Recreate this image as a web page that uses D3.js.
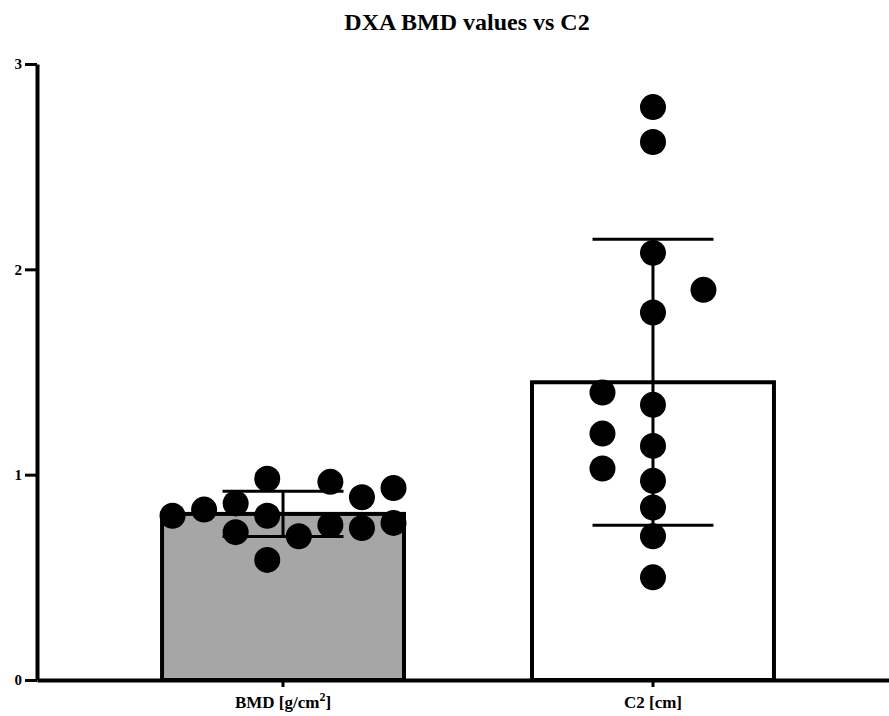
<!DOCTYPE html>
<html>
<head>
<meta charset="utf-8">
<script src="https://cdn.jsdelivr.net/npm/d3@7"></script>
<style>
    body { margin: 0; background: #fff; }
    text { font-family: "Liberation Serif", "DejaVu Serif", serif; font-weight: bold; fill: #000; }
</style>
</head>
<body>
<svg id="chart" width="889" height="716"></svg>
<script>
// Data
var categories = ["BMD", "C2"]
var bmdValues = [0.80, 0.83, 0.86, 0.72, 0.98, 0.80, 0.585, 0.70, 0.965, 0.755, 0.89, 0.74, 0.935, 0.765]
var bmdSlots  = [0,    1,    2,    2,    3,    3,    3,     4,    5,     5,     6,    6,    7,     7]
var c2Values = [2.79, 2.62, 2.08, 1.79, 1.34, 1.14, 0.97, 0.84, 0.70, 0.50, 1.90, 1.40, 1.20, 1.03]
var c2Slots  = [1,    1,    1,    1,    1,    1,    1,    1,    1,    1,    2,    0,    0,    0]
var yTicks = [0, 1, 2, 3]
var title = "DXA BMD values vs C2"

var groups = [
    { name: "BMD", values: bmdValues, slots: bmdSlots, nSlots: 8, spread: 221, fill: "#a6a6a6" },
    { name: "C2", values: c2Values, slots: c2Slots, nSlots: 3, spread: 101, fill: "#ffffff" }
]
groups.forEach(function(g) {
    g.mean = d3.mean(g.values)
    g.sd = d3.deviation(g.values)
})

var svg = d3.select("#chart")

var x = d3.scaleBand()
    .domain(categories)
    .range([37, 899])
    .paddingInner(0.346)
    .paddingOuter(0.338)

var y = d3.scaleLinear()
    .domain([0, 3])
    .range([680, 64])

// Title
svg.append("text")
    .attr("x", 467)
    .attr("y", 30)
    .attr("text-anchor", "middle")
    .style("font-size", "24px")
    .text(title)

// Bars
var bar = svg.selectAll(".bar")
    .data(groups)
    .enter().append("g")
    .attr("class", "bar")

bar.append("rect")
    .attr("x", function(d) { return x(d.name) })
    .attr("y", function(d) { return y(d.mean) })
    .attr("width", x.bandwidth())
    .attr("height", function(d) { return y(0) - y(d.mean) })
    .attr("fill", function(d) { return d.fill })
    .attr("stroke", "#000")
    .attr("stroke-width", 4)

// Error bars (mean +/- SD)
var capHalf = x.bandwidth() / 4
bar.append("line")
    .attr("x1", function(d) { return x(d.name) + x.bandwidth() / 2 })
    .attr("x2", function(d) { return x(d.name) + x.bandwidth() / 2 })
    .attr("y1", function(d) { return y(d.mean + d.sd) })
    .attr("y2", function(d) { return y(d.mean - d.sd) })
    .attr("stroke", "#000")
    .attr("stroke-width", 3)
bar.selectAll(".cap")
    .data(function(d) { return [d.mean + d.sd, d.mean - d.sd].map(function(v) { return { name: d.name, v: v } }) })
    .enter().append("line")
    .attr("class", "cap")
    .attr("x1", function(d) { return x(d.name) + x.bandwidth() / 2 - capHalf })
    .attr("x2", function(d) { return x(d.name) + x.bandwidth() / 2 + capHalf })
    .attr("y1", function(d) { return y(d.v) })
    .attr("y2", function(d) { return y(d.v) })
    .attr("stroke", "#000")
    .attr("stroke-width", 3)

// Individual points
bar.each(function(g) {
    var cx = x(g.name) + x.bandwidth() / 2
    var slotX = d3.scaleLinear()
        .domain([0, g.nSlots - 1])
        .range([cx - g.spread / 2, cx + g.spread / 2])
    d3.select(this).selectAll("circle")
        .data(g.values)
        .enter().append("circle")
        .attr("cx", function(d, i) { return slotX(g.slots[i]) })
        .attr("cy", function(d) { return y(d) })
        .attr("r", 13)
        .attr("fill", "#000")
})

// Y axis
var yAxis = svg.append("g")
    .attr("transform", "translate(37,0)")
    .call(d3.axisLeft(y).tickValues(yTicks).tickSize(12).tickSizeOuter(0).tickPadding(3).tickFormat(d3.format("d")))
yAxis.select(".domain").attr("stroke-width", 4)
yAxis.selectAll(".tick line").attr("stroke-width", 3)
yAxis.selectAll(".tick text").style("font-size", "15px")

// X axis
var xAxis = svg.append("g")
    .attr("transform", "translate(0,680)")
    .call(d3.axisBottom(x).tickSize(7).tickSizeOuter(0).tickPadding(8).tickFormat(""))
xAxis.select(".domain").attr("stroke-width", 4)
xAxis.selectAll(".tick line").attr("stroke-width", 3)

var xLabels = { "BMD": ["BMD [g/cm", "2", "]"], "C2": ["C2 [cm]"] }
xAxis.selectAll(".tick").each(function(d) {
    var t = d3.select(this).append("text")
        .attr("y", 28)
        .attr("text-anchor", "middle")
        .style("font-size", "17px")
    var parts = xLabels[d]
    t.append("tspan").text(parts[0])
    if (parts.length > 1) {
        t.append("tspan").attr("dy", -7).style("font-size", "12px").text(parts[1])
        t.append("tspan").attr("dy", 7).text(parts[2])
    }
})
</script>
</body>
</html>
